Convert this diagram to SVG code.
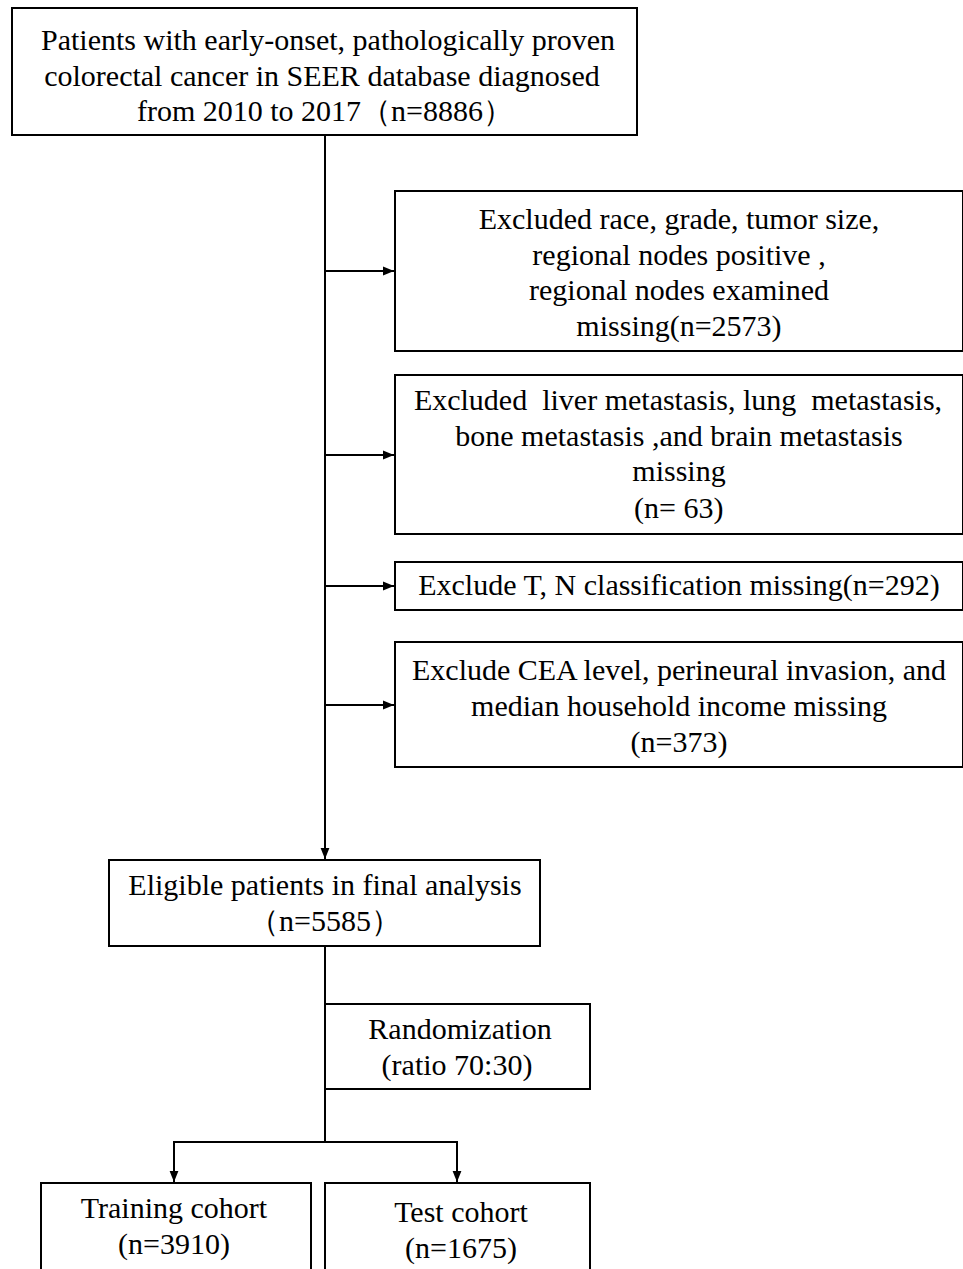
<svg xmlns="http://www.w3.org/2000/svg" width="963" height="1269" viewBox="0 0 963 1269">
<style>
.box{fill:#fff;stroke:#000;stroke-width:2}
.t{font-family:"Liberation Serif","Times New Roman",serif;font-size:30px;fill:#000;text-anchor:middle;white-space:pre}
.ln{fill:none;stroke:#000;stroke-width:2}
</style>
<defs>
<marker id="ah" viewBox="0 0 10 10" refX="10" refY="5" markerWidth="11" markerHeight="11" markerUnits="userSpaceOnUse" orient="auto"><path d="M0,1 L10,5 L0,9 z" fill="#000"/></marker>
</defs>
<rect width="963" height="1269" fill="#fff"/>
<g id="connectors">
<line class="ln" x1="325" y1="135" x2="325" y2="859" marker-end="url(#ah)"/>
<line class="ln" x1="325" y1="271" x2="394" y2="271" marker-end="url(#ah)"/>
<line class="ln" x1="325" y1="455" x2="394" y2="455" marker-end="url(#ah)"/>
<line class="ln" x1="325" y1="586" x2="394" y2="586" marker-end="url(#ah)"/>
<line class="ln" x1="325" y1="705" x2="394" y2="705" marker-end="url(#ah)"/>
<line class="ln" x1="325" y1="946" x2="325" y2="1142"/>
<path class="ln" d="M325,1142 H174 V1182" marker-end="url(#ah)"/>
<path class="ln" d="M325,1142 H457 V1182" marker-end="url(#ah)"/>
</g>
<g id="n-start">
<rect class="box" x="12" y="8" width="625" height="127"/>
<text class="t" x="328" y="50">Patients with early-onset, pathologically proven</text>
<text class="t" x="322" y="86">colorectal cancer in SEER database diagnosed</text>
<text class="t" x="325" y="121">from 2010 to 2017（n=8886）</text>
</g>
<g id="n-ex1">
<rect class="box" x="395" y="191" width="568" height="160"/>
<text class="t" x="679" y="229">Excluded race, grade, tumor size,</text>
<text class="t" x="679" y="265">regional nodes positive ,</text>
<text class="t" x="679" y="300">regional nodes examined</text>
<text class="t" x="679" y="336">missing(n=2573)</text>
</g>
<g id="n-ex2">
<rect class="box" x="395" y="375" width="568" height="159"/>
<text class="t" x="678" y="410" xml:space="preserve">Excluded  liver metastasis, lung  metastasis,</text>
<text class="t" x="679" y="446">bone metastasis ,and brain metastasis</text>
<text class="t" x="679" y="481">missing</text>
<text class="t" x="675" y="518" xml:space="preserve"> (n= 63)</text>
</g>
<g id="n-ex3">
<rect class="box" x="395" y="562" width="568" height="48"/>
<text class="t" x="679" y="595">Exclude T, N classification missing(n=292)</text>
</g>
<g id="n-ex4">
<rect class="box" x="395" y="642" width="568" height="125"/>
<text class="t" x="679" y="680">Exclude CEA level, perineural invasion, and</text>
<text class="t" x="679" y="716">median household income missing</text>
<text class="t" x="679" y="752">(n=373)</text>
</g>
<g id="n-eligible">
<rect class="box" x="109" y="860" width="431" height="86"/>
<text class="t" x="325" y="895">Eligible patients in final analysis</text>
<text class="t" x="325" y="931">（n=5585）</text>
</g>
<g id="n-random">
<rect class="box" x="325" y="1004" width="265" height="85"/>
<text class="t" x="460" y="1039">Randomization</text>
<text class="t" x="457" y="1075">(ratio 70:30)</text>
</g>
<g id="n-train">
<rect class="box" x="41" y="1183" width="270" height="90"/>
<text class="t" x="174" y="1218">Training cohort</text>
<text class="t" x="174" y="1254">(n=3910)</text>
</g>
<g id="n-test">
<rect class="box" x="325" y="1183" width="265" height="90"/>
<text class="t" x="461" y="1222">Test cohort</text>
<text class="t" x="461" y="1258">(n=1675)</text>
</g>
</svg>
